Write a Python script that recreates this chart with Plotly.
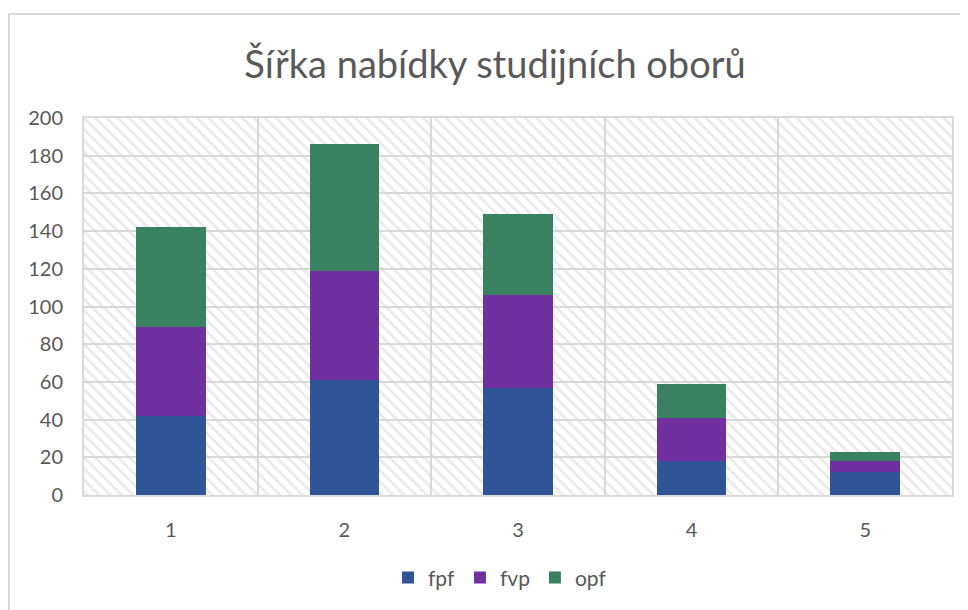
import plotly.graph_objects as go

categories = ["1", "2", "3", "4", "5"]
fpf = [42, 61, 57, 18, 12]
fvp = [47, 58, 49, 23, 6]
opf = [53, 67, 43, 18, 5]
series_names = ["fpf", "fvp", "opf"]
colors = ["#2F5597", "#7030A0", "#3A8162"]
y_ticks = [0, 20, 40, 60, 80, 100, 120, 140, 160, 180, 200]
title_text = "Šířka nabídky studijních oborů"

FONT = "Lato, 'Open Sans', sans-serif"
GRAY = "#595959"
GRID = "#d9d9d9"

fig = go.Figure()

# Hatched plot-area background on the main (hidden) axes
fig.add_trace(go.Scatter(
    x=[0, 1, 1, 0, 0], y=[0, 0, 1, 1, 0],
    mode="none", fill="toself",
    fillcolor="rgba(0,0,0,0)",
    fillpattern=dict(shape="\\", fgcolor="#d6d6d6", bgcolor="rgba(0,0,0,0)",
                     size=8, solidity=0.35),
    hoverinfo="skip", showlegend=False,
    xaxis="x", yaxis="y",
))

for name, vals, col in zip(series_names, [fpf, fvp, opf], colors):
    fig.add_trace(go.Bar(
        x=categories, y=vals, name=name,
        marker=dict(color=col, line=dict(width=0)),
        xaxis="x2", yaxis="y2",
    ))

fig.update_layout(
    width=960, height=602,
    margin=dict(l=76, r=16, t=110, b=115),
    paper_bgcolor="white", plot_bgcolor="rgba(0,0,0,0)",
    barmode="stack", bargap=0.6,
    title=dict(text=title_text, x=(495 - 84) / 868, xref="paper", xanchor="center",
               y=1 - 57 / 602, yref="container", yanchor="middle",
               font=dict(family=FONT, size=38, color=GRAY)),
    font=dict(family=FONT, color=GRAY, size=20),
    xaxis=dict(range=[0, 1], visible=False, fixedrange=True),
    yaxis=dict(range=[0, 1], visible=False, fixedrange=True),
    xaxis2=dict(overlaying="x", type="category", tickson="boundaries",
                showgrid=True, gridcolor=GRID, gridwidth=2,
                showline=True, linecolor=GRID, linewidth=2, mirror=True,
                ticks="", tickfont=dict(size=20, color=GRAY),
                ticklabelstandoff=16, anchor="y2"),
    yaxis2=dict(overlaying="y", range=[0, 200], tickvals=y_ticks,
                showgrid=True, gridcolor=GRID, gridwidth=2,
                showline=True, linecolor=GRID, linewidth=2, mirror=True,
                zeroline=False, ticks="", tickfont=dict(size=20, color=GRAY),
                ticklabelstandoff=15, anchor="x2"),
    legend=dict(orientation="h", x=(388 - 84) / 868, xanchor="left",
                y=-0.22, yanchor="middle",
                font=dict(size=21, color=GRAY), traceorder="normal",
                itemwidth=30),
    shapes=[dict(type="rect", xref="paper", yref="paper",
                 x0=-75 / 868, x1=1.1, y0=-0.5, y1=(495 - 14) / 377,
                 line=dict(color=GRID, width=2), fillcolor="rgba(0,0,0,0)",
                 layer="below")],
)

fig.write_html("out.html")
